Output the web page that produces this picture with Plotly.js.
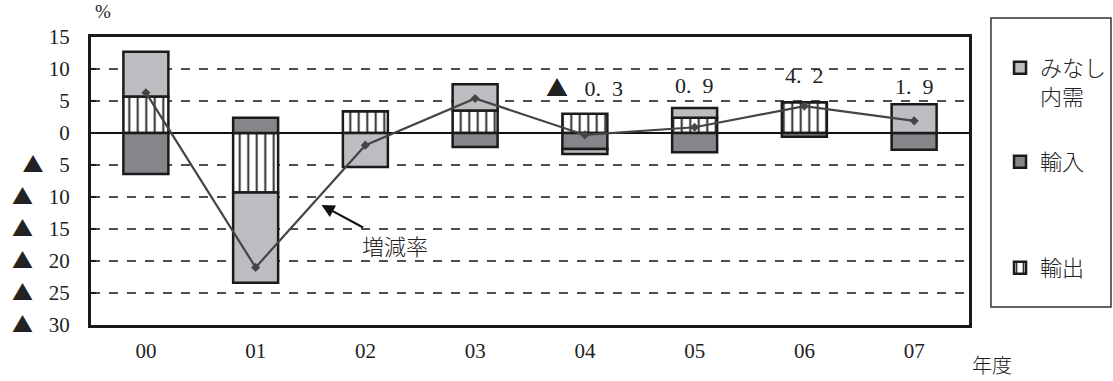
<!DOCTYPE html>
<html>
<head>
<meta charset="utf-8">
<script src="https://cdn.plot.ly/plotly-3.0.1.min.js"></script>
<style>
  html, body { margin: 0; padding: 0; background: #fff; overflow: hidden; }
  #chart { width: 1113px; height: 381px; }
</style>
</head>
<body>
<div id="chart"></div>
<script>
// Fiscal years (年度)
const years = ['00', '01', '02', '03', '04', '05', '06', '07'];

// Contributions to the growth rate, percentage points
const exportContrib = [5.7, -9.3, 3.4, 3.5, 3.0, 2.4, 4.8, 0];     // 輸出
const importContrib = [-6.4, 2.4, 0, -2.2, -2.5, -3.0, -0.6, -2.6]; // 輸入
const demandContrib = [7.0, -14.1, -5.3, 4.1, -0.8, 1.5, 0, 4.5];  // みなし内需

// Growth rate (増減率), %
const growthRate = [6.3, -21.0, -1.9, 5.4, -0.3, 0.9, 4.2, 1.9];

// Y axis ticks
const yTickValues = [15, 10, 5, 0, -5, -10, -15, -20, -25, -30];

// Years whose growth rate is printed above the bars
const labelledYears = ['04', '05', '06', '07'];

const SERIF = 'Liberation Serif, Noto Sans CJK JP, serif';
const CJK = 'Noto Sans CJK JP, sans-serif';

// Full-width triangle used for negative numbers
const TRI = '<span style="font-family:Noto Sans CJK JP">▲</span>';

function fmtTick(v) {
  return v < 0 ? TRI + '\u2002\u2005' + Math.abs(v) : String(v);
}

function fmtRate(v) {
  const s = Math.abs(v).toFixed(1).replace('.', '.\u2002');
  return (v < 0 ? TRI + '\u2002\u2005' : '') + s;
}

const yTickLabels = yTickValues.map(fmtTick);

const outline = { color: '#1a1a1a', width: 2.5 };

const traces = [
  {
    type: 'bar', name: '輸出', x: years, y: exportContrib,
    legend: 'legend3',
    width: 0.41,
    marker: {
      color: '#ffffff', line: outline,
      pattern: { shape: '|', fgcolor: '#222', bgcolor: '#ffffff', size: 8.5, solidity: 0.22, fillmode: 'replace' }
    },
    hoverinfo: 'skip'
  },
  {
    type: 'bar', name: '輸入', x: years, y: importContrib,
    legend: 'legend2',
    width: 0.41,
    marker: { color: '#85858a', line: outline },
    hoverinfo: 'skip'
  },
  {
    type: 'bar', name: 'みなし<br>内需', x: years, y: demandContrib,
    legend: 'legend',
    width: 0.41,
    marker: { color: '#bdbdc1', line: outline },
    hoverinfo: 'skip'
  },
  {
    type: 'scatter', mode: 'lines+markers', name: '増減率', x: years, y: growthRate,
    showlegend: false,
    line: { color: '#454545', width: 2.2 },
    marker: { symbol: 'diamond', size: 7, color: '#454545' },
    hoverinfo: 'skip'
  }
];

// Vertical placement of the printed growth rates
const labelLevel = { '04': 7.3, '05': 7.5, '06': 9.0, '07': 7.3 };

const annotations = labelledYears.map(function (yr) {
  const i = years.indexOf(yr);
  return {
    x: yr, y: labelLevel[yr], xref: 'x', yref: 'y',
    text: fmtRate(growthRate[i]), showarrow: false,
    font: { family: SERIF, size: 22, color: '#222' }
  };
});

// Arrow pointing at the growth rate line
annotations.push({
  x: 1.6, y: -11.25, xref: 'x', yref: 'y',
  text: '増減率', showarrow: true,
  ax: 74, ay: 40, axref: 'pixel', ayref: 'pixel',
  arrowhead: 2, arrowsize: 1.3, arrowwidth: 2, arrowcolor: '#111',
  font: { family: CJK, size: 22, color: '#222', weight: 300 }
});

// Unit labels
annotations.push({
  x: 0.0142, y: 1.09, xref: 'paper', yref: 'paper', xanchor: 'center', yanchor: 'middle',
  text: '%', showarrow: false,
  font: { family: SERIF, size: 19, color: '#222' }
});
annotations.push({
  x: 1.026, y: -0.136, xref: 'paper', yref: 'paper', xanchor: 'center', yanchor: 'middle',
  text: '年度', showarrow: false,
  font: { family: CJK, size: 20, color: '#222', weight: 300 }
});

// Three separately placed legends, positioned in page (container) coordinates
const legendFont = { family: CJK, size: 22, color: '#222', weight: 300 };
function legendBox(yTop) {
  return {
    xref: 'container', yref: 'container',
    x: 0.8985, y: yTop, xanchor: 'left', yanchor: 'top', valign: 'top',
    bgcolor: 'rgba(0,0,0,0)', borderwidth: 0, font: legendFont
  };
}

const layout = {
  width: 1113, height: 381,
  margin: { l: 91, r: 144, t: 37, b: 56 },
  paper_bgcolor: '#ffffff', plot_bgcolor: '#ffffff',
  barmode: 'relative',
  showlegend: true,
  legend: legendBox(0.8765),
  legend2: legendBox(0.6300),
  legend3: legendBox(0.3520),
  xaxis: {
    type: 'category', categoryorder: 'array', categoryarray: years,
    showline: true, mirror: true, linecolor: '#1a1a1a', linewidth: 3,
    showgrid: false, ticks: '', ticklabelstandoff: 5,
    tickfont: { family: SERIF, size: 21, color: '#222' },
    zeroline: false, fixedrange: true, automargin: false
  },
  yaxis: {
    range: [-30, 15],
    tickvals: yTickValues, ticktext: yTickLabels,
    showline: true, mirror: true, linecolor: '#1a1a1a', linewidth: 3,
    ticks: 'inside', ticklen: 5, tickwidth: 1.5, tickcolor: '#1a1a1a',
    ticklabelstandoff: 14,
    showgrid: true, gridcolor: '#505050', gridwidth: 1.4, griddash: 'dash',
    zeroline: true, zerolinecolor: '#111', zerolinewidth: 2.2,
    tickfont: { family: SERIF, size: 21, color: '#222' },
    fixedrange: true, automargin: false
  },
  shapes: [
    {
      type: 'rect', xref: 'paper', yref: 'paper',
      x0: 1.025, x1: 1.1617, y0: 0.0625, y1: 1.066,
      line: { color: '#333', width: 1.5 }, fillcolor: 'rgba(0,0,0,0)'
    }
  ],
  annotations: annotations
};

Plotly.newPlot('chart', traces, layout, { staticPlot: true, displayModeBar: false });
</script>
</body>
</html>
